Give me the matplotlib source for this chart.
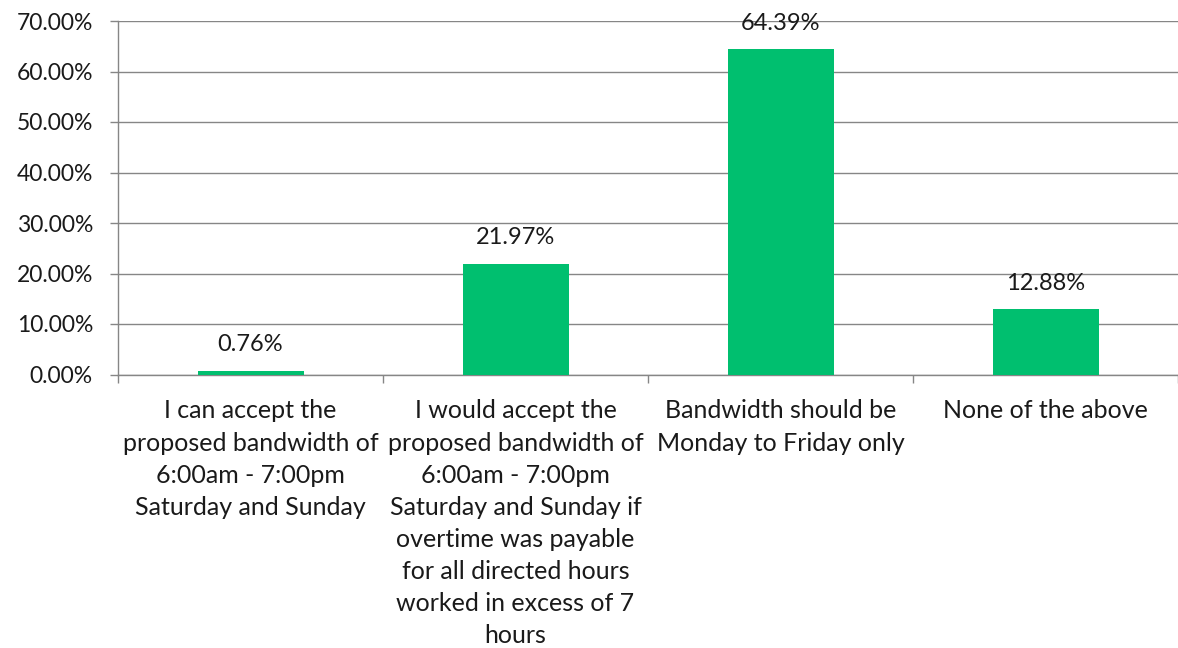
import matplotlib
matplotlib.use("Agg")
import matplotlib.pyplot as plt
from matplotlib.ticker import FuncFormatter, FixedLocator

plt.rcParams['font.family'] = ['Lato', 'DejaVu Sans']

categories = [
    "I can accept the\nproposed bandwidth of\n6:00am - 7:00pm\nSaturday and Sunday",
    "I would accept the\nproposed bandwidth of\n6:00am - 7:00pm\nSaturday and Sunday if\novertime was payable\nfor all directed hours\nworked in excess of 7\nhours",
    "Bandwidth should be\nMonday to Friday only",
    "None of the above",
]
values = [0.76, 21.97, 64.39, 12.88]
y_ticks = [0, 10, 20, 30, 40, 50, 60, 70]

BAR_COLOR = "#00BF6F"
GRID_COLOR = "#868686"
TEXT_COLOR = "#1a1a1a"

fig = plt.figure(figsize=(11.78, 6.48), dpi=100)
ax = fig.add_axes([118 / 1178, 1 - 374.5 / 648, 1 - 118 / 1178, (374.5 - 21) / 648])

x = list(range(len(categories)))
bars = ax.bar(x, values, width=0.4, color=BAR_COLOR, zorder=3)

for xi, v in zip(x, values):
    ax.annotate(f"{v:.2f}%", (xi, v), xytext=(0, 11), textcoords="offset points",
                ha="center", va="bottom", fontsize=17, color=TEXT_COLOR)

ax.set_xlim(-0.5, len(categories) - 0.5)
ax.set_ylim(0, 70)
ax.set_yticks(y_ticks)
ax.yaxis.set_major_formatter(FuncFormatter(lambda v, _: f"{v:.2f}%"))
ax.yaxis.grid(True, color=GRID_COLOR, linewidth=1.0, zorder=0)
ax.tick_params(axis="y", length=6, width=1, color=GRID_COLOR, labelsize=16.5,
               labelcolor=TEXT_COLOR, pad=12)

ax.set_xticks(x)
ax.set_xticklabels(categories, fontsize=18, color=TEXT_COLOR, linespacing=1.48,
                   va="top", ha="center")
ax.tick_params(axis="x", which="major", length=0, pad=18)
ax.xaxis.set_minor_locator(FixedLocator([i - 0.5 for i in range(len(categories) + 1)]))
ax.tick_params(axis="x", which="minor", length=6, width=1, color=GRID_COLOR)

for side in ("top", "right"):
    ax.spines[side].set_visible(False)
ax.spines["left"].set_color(GRID_COLOR)
ax.spines["bottom"].set_color(GRID_COLOR)
ax.spines["left"].set_linewidth(1.0)
ax.spines["bottom"].set_linewidth(1.0)

fig.savefig("out.png", dpi=100)
